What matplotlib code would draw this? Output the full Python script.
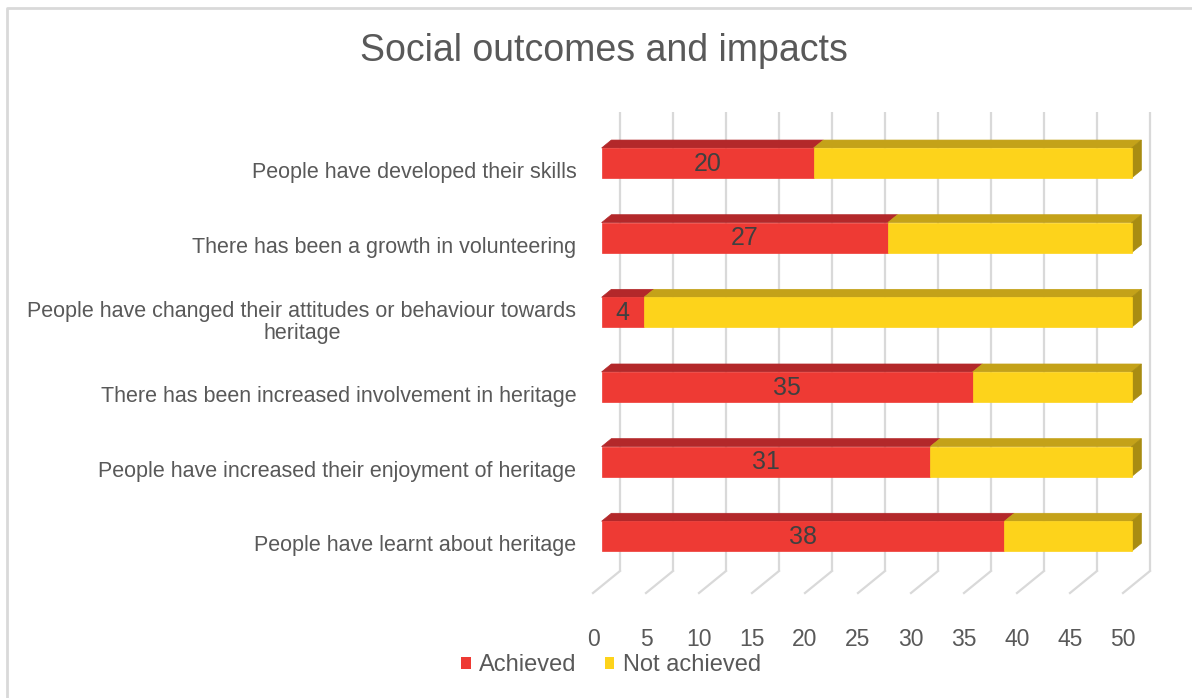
import matplotlib
matplotlib.use("Agg")
import matplotlib.pyplot as plt
from matplotlib.patches import Polygon, Patch
from matplotlib.lines import Line2D

plt.rcParams['font.family'] = ['Liberation Sans', 'DejaVu Sans']

# ---------------- data ----------------
categories = [
    "People have developed their skills",
    "There has been a growth in volunteering",
    "People have changed their attitudes or behaviour towards\nheritage",
    "There has been increased involvement in heritage",
    "People have increased their enjoyment of heritage",
    "People have learnt about heritage",
]
achieved = [20, 27, 4, 35, 31, 38]
not_achieved = [30, 23, 46, 15, 19, 12]
x_ticks = [0, 5, 10, 15, 20, 25, 30, 35, 40, 45, 50]
series_names = ["Achieved", "Not achieved"]
title = "Social outcomes and impacts"

# ---------------- styling ----------------
W, H = 1192, 698
TXT = "#595959"
GRID = "#D9D9D9"
front_cols = ["#EE3A34", "#FDD31B"]
top_cols = ["#B3282A", "#C4A219"]
side_cols = ["#A88C12", "#A88C12"]

fig = plt.figure(figsize=(W / 100, H / 100), dpi=100)

# axes = front (depth 0) plane of the 3D box
px_x0, px_x1 = 593, 1123      # value 0 -> 50 at depth 0
px_cat0, px_step = 170, 74.65  # category centres at depth 0
px_top, px_bot = 134, 593
ax = fig.add_axes([px_x0 / W, 1 - px_bot / H, (px_x1 - px_x0) / W, (px_bot - px_top) / H])
ax.set_xlim(0, 50)
ax.set_ylim((px_bot - px_cat0) / px_step, (px_top - px_cat0) / px_step)
ax.patch.set_visible(False)
for s in ax.spines.values():
    s.set_visible(False)

# depth vector (full depth) in data units
ddx = 27 / ((px_x1 - px_x0) / 50)
ddy = -22 / px_step
d0, d1 = 0.32, 0.68
bar_h = 30 / px_step

ylo, yhi = ax.get_ylim()  # ylo = floor (bottom), yhi = top

# back wall gridlines and floor lines
for v in x_ticks:
    ax.plot([v + ddx, v + ddx], [ylo + ddy, yhi + ddy], color=GRID, lw=1.6,
            clip_on=False, zorder=1, solid_capstyle='butt')
    ax.plot([v, v + ddx], [ylo, ylo + ddy], color=GRID, lw=1.6,
            clip_on=False, zorder=1)

def pt(x, y, d):
    return (x + d * ddx, y + d * ddy)

n = len(categories)
for i in range(n):
    yc = i
    yt, yb = yc - bar_h / 2, yc + bar_h / 2
    segs = [(0, achieved[i]), (achieved[i], achieved[i] + not_achieved[i])]
    for k, (x0, x1) in enumerate(segs):
        # top face
        ax.add_patch(Polygon([pt(x0, yt, d0), pt(x1, yt, d0), pt(x1, yt, d1), pt(x0, yt, d1)],
                             closed=True, fc=top_cols[k], ec=top_cols[k], lw=0.5,
                             clip_on=False, zorder=3))
        # front face
        ax.add_patch(Polygon([pt(x0, yt, d0), pt(x1, yt, d0), pt(x1, yb, d0), pt(x0, yb, d0)],
                             closed=True, fc=front_cols[k], ec=front_cols[k], lw=0.5,
                             clip_on=False, zorder=4))
    # right side face of last segment
    xe = segs[-1][1]
    ax.add_patch(Polygon([pt(xe, yt, d0), pt(xe, yt, d1), pt(xe, yb, d1), pt(xe, yb, d0)],
                         closed=True, fc=side_cols[1], ec=side_cols[1], lw=0.5,
                         clip_on=False, zorder=3))
    # data label on achieved segment
    lx, ly = pt(achieved[i] / 2, yc, d0)
    ax.text(lx, ly + 0.01, str(achieved[i]), ha='center', va='center', fontsize=18,
            color="#404040", zorder=6, clip_on=False)

# ticks
ax.set_xticks(x_ticks)
ax.set_xticklabels([str(v) for v in x_ticks])
ax.set_yticks(range(n))
ax.set_yticklabels(categories, multialignment='center', linespacing=1.1)
ax.tick_params(axis='x', length=0, pad=25, labelsize=16.5, labelcolor=TXT)
ax.tick_params(axis='y', length=0, pad=12, labelsize=15.5, labelcolor=TXT)

# title
fig.text(604 / W, 1 - 51 / H, title, ha='center', va='center', fontsize=27, color=TXT)

# legend
handles = [Patch(facecolor=front_cols[k], edgecolor='none') for k in range(2)]
fig.legend(handles, series_names, loc='center', bbox_to_anchor=(611 / W, 1 - 665 / H),
           ncol=2, frameon=False, fontsize=17, labelcolor=TXT,
           handlelength=0.4, handleheight=0.4, handletextpad=0.35, columnspacing=1.2)

# chart border
fig.add_artist(Line2D([7 / W, 7 / W, 1.01], [-0.01, 1 - 8 / H, 1 - 8 / H],
                      transform=fig.transFigure, color=GRID, lw=2))

fig.savefig("out.png", dpi=100, facecolor='white')
